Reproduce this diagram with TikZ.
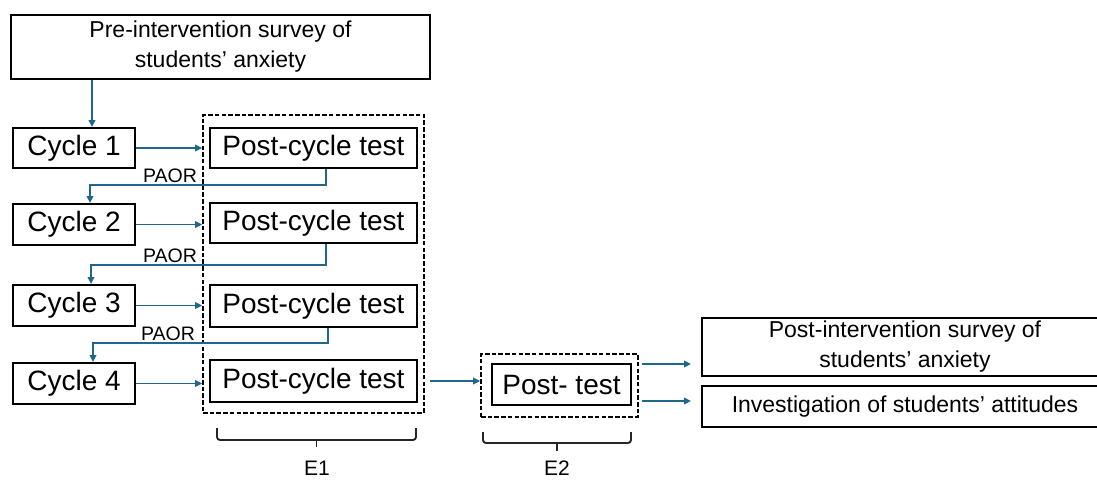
\documentclass[tikz,border=0pt]{standalone}
\usepackage{fontspec}
\setmainfont{Liberation Sans}
\usetikzlibrary{arrows.meta}
\definecolor{arrblue}{RGB}{31,104,140}
\tikzset{
  box/.style={draw=black, line width=1.9pt, fill=white, inner sep=0pt, align=center},
  bigtxt/.style={font=\fontsize{28}{33}\selectfont},
  midtxt/.style={font=\fontsize{23}{30}\selectfont},
  dbox/.style={draw=black, line width=1.7pt, dash pattern=on 4.5pt off 2.2pt, inner sep=0pt},
  arr/.style={draw=arrblue, line width=1.8pt, -{Triangle[length=7pt,width=6.5pt]}},
  lbl/.style={inner sep=0pt, font=\fontsize{19.5}{22}\selectfont},
  elbl/.style={inner sep=0pt, font=\fontsize{21}{23}\selectfont},
  bracepath/.style={draw=black!85, line width=1.9pt, rounded corners=3pt}
}
\begin{document}
\begin{tikzpicture}[x=1pt,y=-1pt]
\clip (0,0) rectangle (1097,480);
\fill[white] (0,0) rectangle (1097,480);

% dashed group boxes
\node[dbox, minimum width=221pt, minimum height=298pt] (e1) at (313.5,264) {};
\node[dbox, minimum width=157pt, minimum height=63pt] (e2) at (559.5,385.5) {};

% top box
\node[box, midtxt, minimum width=419pt, minimum height=64pt] (top) at (220.5,47) {Pre-intervention survey of\\students’ anxiety};

% cycles
\node[box, bigtxt, minimum width=122pt, minimum height=40pt] (c1) at (74,148) {Cycle 1};
\node[box, bigtxt, minimum width=122pt, minimum height=41pt] (c2) at (74,224.5) {Cycle 2};
\node[box, bigtxt, minimum width=122pt, minimum height=41pt] (c3) at (74,305.5) {Cycle 3};
\node[box, bigtxt, minimum width=122pt, minimum height=41pt] (c4) at (74,383.5) {Cycle 4};

% post-cycle tests
\node[box, bigtxt, minimum width=207pt, minimum height=40pt] (p1) at (313.5,148) {Post-cycle test};
\node[box, bigtxt, minimum width=207pt, minimum height=40pt] (p2) at (313.5,223) {Post-cycle test};
\node[box, bigtxt, minimum width=207pt, minimum height=42pt] (p3) at (313.5,306) {Post-cycle test};
\node[box, bigtxt, minimum width=207pt, minimum height=42pt] (p4) at (313.5,381) {Post-cycle test};

% post test
\node[box, bigtxt, minimum width=139pt, minimum height=41pt] (pt) at (561.5,384.5) {Post- test};

% right boxes
\node[box, midtxt, minimum width=406pt, minimum height=58pt] (s) at (905,347) {Post-intervention survey of\\students’ anxiety};
\node[box, midtxt, minimum width=406pt, minimum height=41pt] (inv) at (905,406.5) {Investigation of students’ attitudes};

% connectors
\draw[arr] ([xshift=18pt]c1.north |- top.south) -- ([xshift=18pt]c1.north);

\draw[arr] (c1.east) -- (c1.east -| e1.west);
\draw[arr] (c2.east) -- (c2.east -| e1.west);
\draw[arr] (c3.east) -- (c3.east -| e1.west);
\draw[arr] (c4.east) -- (c4.east -| e1.west);

\draw[arr] ([xshift=12.5pt]p1.south) -- ++(0,16) -| ([xshift=16pt]c2.north);
\draw[arr] ([xshift=12.5pt]p2.south) -- ++(0,21) -| ([xshift=17pt]c3.north);
\draw[arr] ([xshift=14.5pt]p3.south) -- ++(0,15) -| ([xshift=19pt]c4.north);

\node[lbl] (l1) at (170,175.5) {PAOR};
\node[lbl] (l2) at (170,255.5) {PAOR};
\node[lbl] (l3) at (168,333.5) {PAOR};

\draw[arr, shorten <=5pt] (p4.east -| e1.east) -- (p4.east -| e2.west);
\draw[arr, shorten <=3pt, shorten >=10pt] ([yshift=21.5pt]e2.east) -- ([yshift=21.5pt]e2.east -| s.west);
\draw[arr, shorten <=3pt, shorten >=10pt] ([yshift=-15.5pt]e2.east) -- ([yshift=-15.5pt]e2.east -| inv.west);

% braces
\draw[bracepath] (217,428) -- (217,440) -- (416,440) -- (416,428);
\draw[draw=black!85, line width=1.9pt] (316.5,440) -- (316.5,447);
\draw[bracepath] (483,432) -- (483,443) -- (631,443) -- (631,432);
\draw[draw=black!85, line width=1.9pt] (557,443) -- (557,451);

\node[elbl] (E1) at (317,468) {E1};
\node[elbl] (E2) at (557,468) {E2};
\end{tikzpicture}
\end{document}
